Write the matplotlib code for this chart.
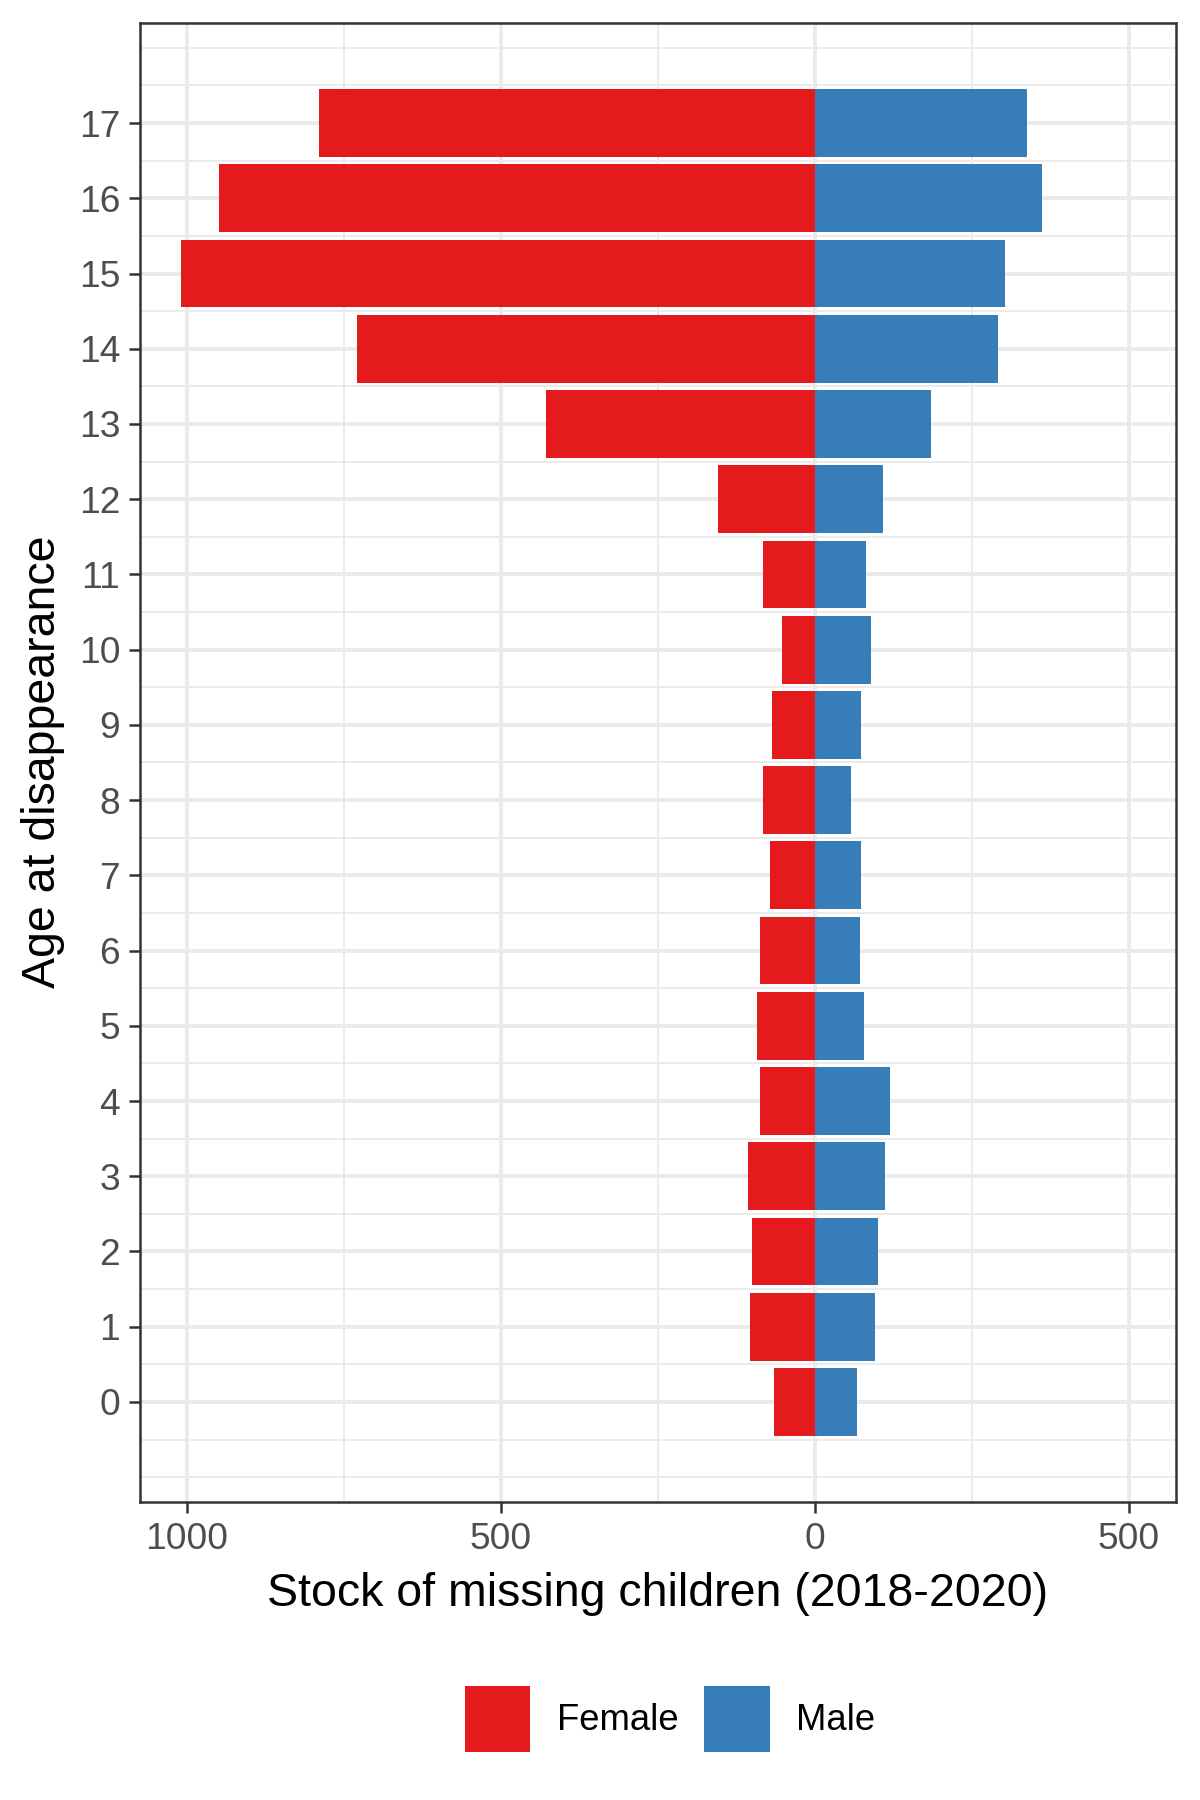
import numpy as np
import matplotlib
matplotlib.use("Agg")
import matplotlib.pyplot as plt
from matplotlib.patches import Patch

plt.rcParams['font.family'] = ['Liberation Sans', 'DejaVu Sans']

# data
ages = list(range(0, 18))
female = [66, 103, 100, 107, 88, 92, 88, 71, 82, 68, 52, 83, 154, 429, 729, 1010, 949, 790]
male = [67, 95, 100, 111, 120, 78, 72, 74, 58, 73, 89, 81, 109, 185, 292, 302, 362, 338]
xticks = [-1000, -500, 0, 500]
xticklabels = ['1000', '500', '0', '500']

red = '#E41A1C'
blue = '#377EB8'
grid_col = '#EBEBEB'
dark = '#333333'

W, H = 1200, 1800
fig = plt.figure(figsize=(8, 12), dpi=150)
ax = fig.add_axes([140 / W, 1 - 1502 / H, (1176 - 140) / W, (1502 - 23) / H])

ages = np.array(ages)
ax.barh(ages, -np.array(female), height=0.9, color=red, zorder=3, label='Female')
ax.barh(ages, np.array(male), height=0.9, color=blue, zorder=3, label='Male')

ax.set_xlim(-1075, 575)
ax.set_ylim(-1.33, 18.33)

ax.set_xticks(xticks)
ax.set_xticklabels(xticklabels)
ax.set_yticks(ages)
ax.set_yticklabels([str(a) for a in ages])

ax.set_xticks([-750, -250, 250], minor=True)
ax.set_yticks([v for v in np.arange(-1, 18.01, 0.5) if v not in set(ages)], minor=True)

ax.grid(which='major', color=grid_col, linewidth=1.9, zorder=0)
ax.grid(which='minor', color=grid_col, linewidth=0.95, zorder=0)
ax.set_axisbelow(True)

ax.tick_params(which='major', length=5.5, width=1.2, color=dark, labelsize=17.8,
               labelcolor='#4D4D4D', pad=4)
ax.tick_params(which='minor', length=0)

for s in ax.spines.values():
    s.set_color(dark)
    s.set_linewidth(1.2)

fig.text(658 / W, 1 - 1594 / H, 'Stock of missing children (2018-2020)',
         ha='center', va='center', fontsize=22.3, color='black')
fig.text(43 / W, 1 - 762 / H, 'Age at disappearance', rotation=90,
         ha='center', va='center', fontsize=22.3, color='black')

handles = [Patch(facecolor=red, label='Female'), Patch(facecolor=blue, label='Male')]
fig.legend(handles=handles, loc='center', bbox_to_anchor=(670 / W, 1 - 1719 / H),
           ncol=2, frameon=False, fontsize=17.5, handlelength=1.8, handleheight=2.4,
           handletextpad=0.72, columnspacing=0.72, borderpad=0)

fig.savefig('out.png', dpi=150, facecolor='white')
